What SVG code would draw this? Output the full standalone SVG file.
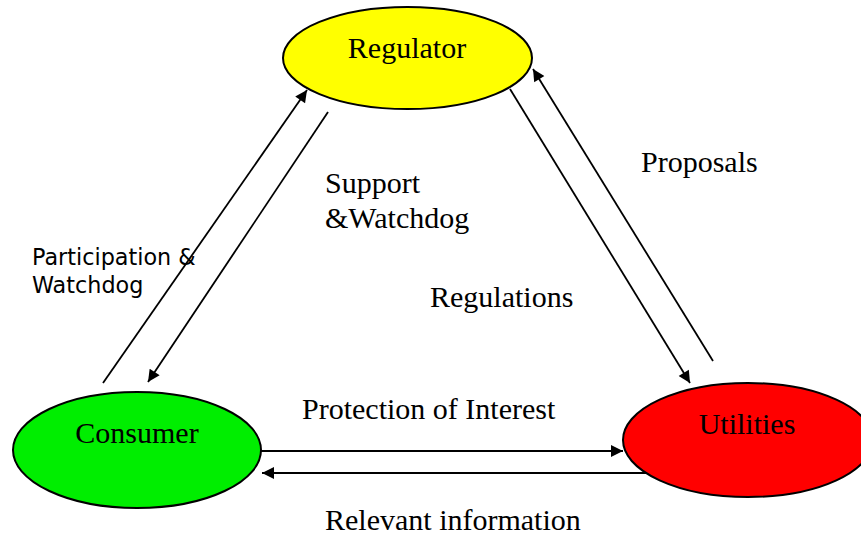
<svg xmlns="http://www.w3.org/2000/svg" width="861" height="537" viewBox="0 0 861 537">
<style>
.node{stroke:#000;stroke-width:2}
.lbl{font-family:"Liberation Serif","Times New Roman",serif;font-size:30px;fill:#000}
.sans{font-family:"DejaVu Sans",Verdana,sans-serif;font-size:22.3px;fill:#000}
.conn line{stroke:#000;stroke-width:1.8;fill:none}
</style>
<defs>
<marker id="ah" viewBox="0 0 10 10" refX="10" refY="5" markerWidth="15" markerHeight="12" markerUnits="userSpaceOnUse" orient="auto">
<path d="M0,0 L10,5 L0,10 Z" fill="#000"/>
</marker>
</defs>
<rect width="861" height="537" fill="#fff"/>
<g id="regulator">
<ellipse class="node" cx="407.5" cy="58" rx="124.5" ry="51" fill="#ffff00"/>
<text class="lbl" x="407" y="58" text-anchor="middle">Regulator</text>
</g>
<g id="consumer">
<ellipse class="node" cx="137" cy="450" rx="124" ry="58" fill="#00ee00"/>
<text class="lbl" x="137" y="443" text-anchor="middle">Consumer</text>
</g>
<g id="utilities">
<ellipse class="node" cx="748" cy="440" rx="125" ry="57" fill="#ff0000"/>
<text class="lbl" x="747" y="434" text-anchor="middle">Utilities</text>
</g>
<g id="connectors" class="conn">
<line x1="103" y1="383" x2="307" y2="90" marker-end="url(#ah)"/>
<line x1="328" y1="112" x2="148" y2="382" marker-end="url(#ah)"/>
<line x1="510" y1="89" x2="690" y2="383" marker-end="url(#ah)"/>
<line x1="713" y1="361" x2="533" y2="69" marker-end="url(#ah)"/>
<line x1="261" y1="451" x2="623" y2="451" marker-end="url(#ah)"/>
<line x1="647" y1="473" x2="262" y2="473" marker-end="url(#ah)"/>
</g>
<g id="labels">
<text class="sans" x="32" y="265">Participation &amp;</text>
<text class="sans" x="32" y="293">Watchdog</text>
<text class="lbl" x="325" y="193">Support</text>
<text class="lbl" x="325" y="228">&amp;Watchdog</text>
<text class="lbl" x="430" y="307">Regulations</text>
<text class="lbl" x="641" y="172">Proposals</text>
<text class="lbl" x="302" y="419">Protection of Interest</text>
<text class="lbl" x="325" y="530">Relevant information</text>
</g>
</svg>
